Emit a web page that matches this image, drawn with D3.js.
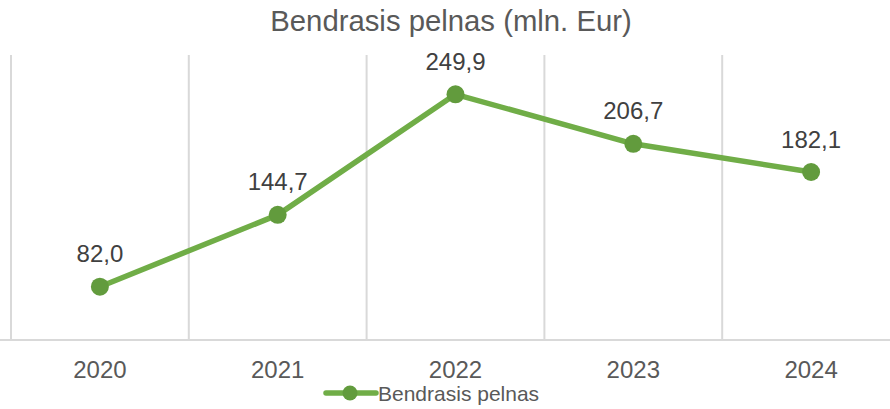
<!DOCTYPE html>
<html>
<head>
<meta charset="utf-8">
<script src="https://cdn.jsdelivr.net/npm/d3@7"></script>
<style>
  html, body { margin: 0; padding: 0; background: #fff; }
  svg { display: block; font-family: "Liberation Sans", Arial, sans-serif; }
</style>
</head>
<body>
<svg id="chart" width="890" height="409"></svg>
<script>
const categories = ["2020", "2021", "2022", "2023", "2024"];
const values = [82.0, 144.7, 249.9, 206.7, 182.1];
const labels = ["82,0", "144,7", "249,9", "206,7", "182,1"];
const seriesName = "Bendrasis pelnas";
const title = "Bendrasis pelnas (mln. Eur)";
const yDomain = [35.5, 284.2];

const svg = d3.select("#chart");
const lineColor = "#70AD47";
const markerColor = "#629B3D";
const gridColor = "#D9D9D9";

const x = d3.scaleBand().domain(categories).range([11, 900]).padding(0);
const y = d3.scaleLinear().domain(yDomain).range([340, 55]);

// Title
svg.append("text")
  .attr("x", 451).attr("y", 31)
  .attr("text-anchor", "middle")
  .attr("font-size", 29.3)
  .attr("fill", "#595959")
  .text(title);

// Vertical gridlines at category boundaries
const bounds = categories.map(c => x(c)).concat([x(categories[categories.length - 1]) + x.bandwidth()]);
svg.append("g").selectAll("line").data(bounds).join("line")
  .attr("x1", d => d).attr("x2", d => d)
  .attr("y1", y(yDomain[1])).attr("y2", y(yDomain[0]))
  .attr("stroke", gridColor).attr("stroke-width", 2);

// X axis
const xAxis = d3.axisBottom(x).tickSize(0).tickPadding(0);
const gx = svg.append("g").attr("transform", `translate(0,${y(yDomain[0])})`).call(xAxis);
gx.select(".domain").attr("stroke", gridColor).attr("stroke-width", 2)
  .attr("d", `M0,0H890`);
gx.selectAll(".tick text")
  .attr("font-size", 24)
  .attr("fill", "#595959")
  .attr("font-family", "'Liberation Sans', Arial, sans-serif")
  .attr("dy", null)
  .attr("y", 38);

// Line
const pts = categories.map((c, i) => ({ c, v: values[i], l: labels[i] }));
const line = d3.line().x(d => x(d.c) + x.bandwidth() / 2).y(d => y(d.v));
svg.append("path").datum(pts)
  .attr("d", line)
  .attr("fill", "none")
  .attr("stroke", lineColor)
  .attr("stroke-width", 5.5)
  .attr("stroke-linejoin", "round")
  .attr("stroke-linecap", "round");

// Markers
svg.append("g").selectAll("circle").data(pts).join("circle")
  .attr("cx", d => x(d.c) + x.bandwidth() / 2)
  .attr("cy", d => y(d.v))
  .attr("r", 9)
  .attr("fill", markerColor);

// Data labels
svg.append("g").selectAll("text").data(pts).join("text")
  .attr("x", d => x(d.c) + x.bandwidth() / 2)
  .attr("y", d => y(d.v) - 24.5)
  .attr("text-anchor", "middle")
  .attr("font-size", 24)
  .attr("fill", "#404040")
  .text(d => d.l);

// Legend
const lg = svg.append("g").attr("transform", "translate(326,393)");
lg.append("line").attr("x1", 0).attr("x2", 50).attr("y1", 0).attr("y2", 0)
  .attr("stroke", lineColor).attr("stroke-width", 5.5).attr("stroke-linecap", "round");
lg.append("circle").attr("cx", 24).attr("cy", 0).attr("r", 7.5).attr("fill", markerColor);
lg.append("text").attr("x", 52).attr("y", 7.5)
  .attr("font-size", 21).attr("fill", "#595959")
  .text(seriesName);
</script>
</body>
</html>
